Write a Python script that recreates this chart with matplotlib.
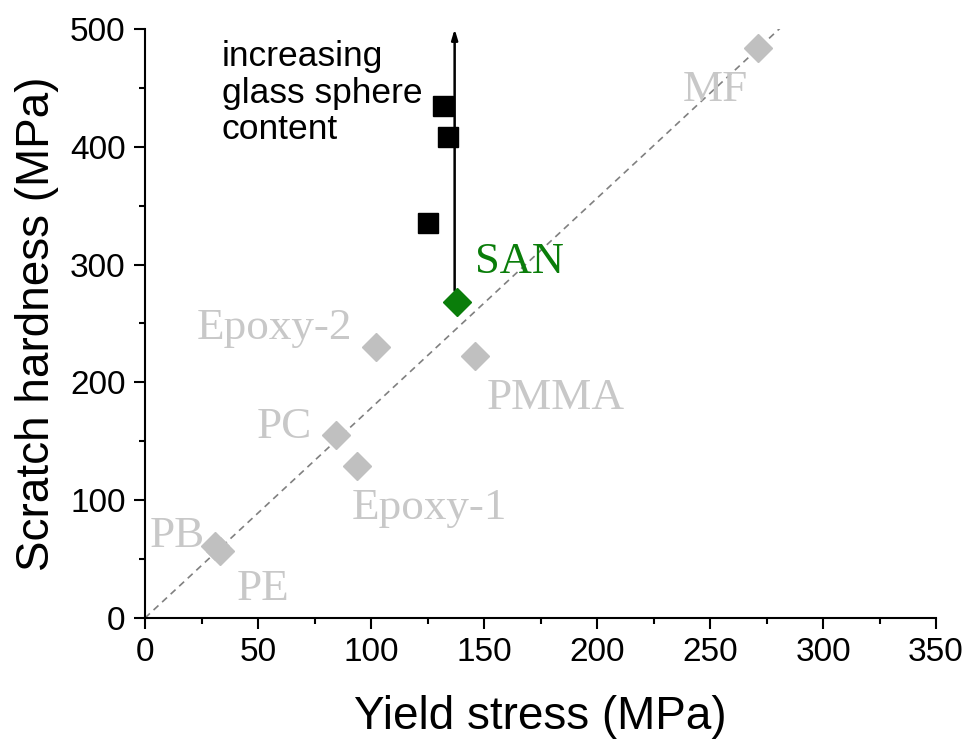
import matplotlib
matplotlib.use("Agg")
import matplotlib.pyplot as plt
from matplotlib.ticker import MultipleLocator

# polymers: yield stress vs scratch hardness (MPa)
names = ["PB", "PE", "PC", "Epoxy-1", "Epoxy-2", "PMMA", "MF"]
yield_stress = [31, 33, 84.5, 94, 102, 146, 271]
hardness = [61, 57, 155, 129, 230, 222, 484]

# SAN and SAN filled with glass spheres
san_x, san_y = 138, 268
filled_x = [125, 134, 132]
filled_y = [335, 408, 435]

# label anchor points (data units) and alignment
label_x = [26.5, 40.5, 74, 91.5, 91.5, 151, 252.5]
label_y = [70, 25, 162, 93, 246, 187, 448]
label_ha = ["right", "left", "right", "left", "right", "left", "center"]

fit_x = [0, 281]
fit_slope = 1.782

gray = "#c0c0c0"
label_gray = "#c8c8c8"
green = "#0a7d0a"
sans = ["Liberation Sans", "DejaVu Sans"]
serif = ["Liberation Serif", "DejaVu Serif"]

fig = plt.figure(figsize=(9.68, 7.4), dpi=100)
ax = fig.add_axes([0.1498, 0.1649, 0.967 - 0.1498, 0.9608 - 0.1649])

ax.plot(fit_x, [fit_slope * v for v in fit_x], ls=(0, (4, 3)), color="#808080",
        lw=1.2, zorder=1)

ax.plot(yield_stress, hardness, "D", color=gray, ms=14, mec=gray, zorder=2)
for name, tx, ty, ha in zip(names, label_x, label_y, label_ha):
    ax.text(tx, ty, name, color=label_gray, fontsize=32.5, family=serif,
            ha=ha, va="center", zorder=3)

ax.annotate("", xy=(137, 500), xytext=(137, 278),
            arrowprops=dict(arrowstyle="-|>,head_length=0.6,head_width=0.18",
                            color="black", lw=1.8, shrinkA=0, shrinkB=0))
ax.plot(filled_x, filled_y, "s", color="black", ms=14, zorder=4)
ax.plot([san_x], [san_y], "D", color=green, ms=14, mec=green, zorder=5)
ax.text(146, 302, "SAN", color=green, fontsize=32, family=serif,
        ha="left", va="center")

ax.text(34, 491, "increasing\nglass sphere\ncontent", fontsize=25.5,
        family=sans, ha="left", va="top", linespacing=1.15)

ax.set_xlim(0, 350)
ax.set_ylim(0, 500)
ax.xaxis.set_major_locator(MultipleLocator(50))
ax.xaxis.set_minor_locator(MultipleLocator(25))
ax.yaxis.set_major_locator(MultipleLocator(100))
ax.yaxis.set_minor_locator(MultipleLocator(50))

for side in ["top", "right"]:
    ax.spines[side].set_visible(False)
for side in ["left", "bottom"]:
    ax.spines[side].set_linewidth(1.5)

ax.tick_params(which="major", direction="out", length=8, width=1.5, pad=6)
ax.tick_params(which="minor", direction="out", length=4.3, width=1.5)
for lab in ax.get_xticklabels() + ax.get_yticklabels():
    lab.set_family(sans)
    lab.set_fontsize(24)

ax.set_xlabel("Yield stress (MPa)", fontsize=33, family=sans, labelpad=19)
ax.set_ylabel("Scratch hardness (MPa)", fontsize=33, family=sans, labelpad=8)

fig.savefig("out.png", dpi=100)
